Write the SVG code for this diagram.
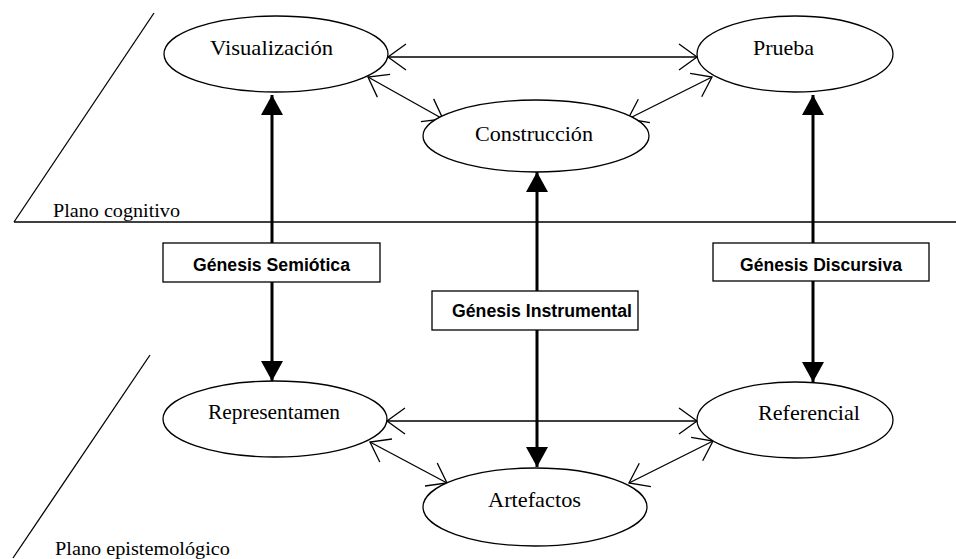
<svg xmlns="http://www.w3.org/2000/svg" width="956" height="559" viewBox="0 0 956 559">
<style>
.bg{fill:#fff}
.node ellipse{fill:#fff;stroke:#000;stroke-width:1.3}
.node text{font-family:"Liberation Serif","Times New Roman",serif;font-size:22px;fill:#000}
.box rect{fill:#fff;stroke:#000;stroke-width:1.3}
.box text{font-family:"Liberation Sans",Arial,sans-serif;font-size:17.5px;font-weight:bold;fill:#000}
.thin{stroke:#000;stroke-width:1.3;fill:none}
.thick{stroke:#000;stroke-width:3;fill:none}
.plane{stroke:#000;stroke-width:1.3;fill:none}
.lbl{font-family:"Liberation Serif","Times New Roman",serif;font-size:18px;fill:#000}
</style>
<defs>
<marker id="open" markerUnits="userSpaceOnUse" markerWidth="22" markerHeight="30" viewBox="-20 -15 22 30" refX="0" refY="0" orient="auto-start-reverse">
<path d="M-18,-13 L0,0 L-18,13" fill="none" stroke="#000" stroke-width="1.3"/>
</marker>
<marker id="solid" markerUnits="userSpaceOnUse" markerWidth="24" markerHeight="24" viewBox="-22 -12 24 24" refX="0" refY="0" orient="auto-start-reverse">
<path d="M-20,-11 L0,0 L-20,11 Z" fill="#000"/>
</marker>
</defs>
<rect class="bg" x="0" y="0" width="956" height="559"/>

<g id="planes">
<line class="plane" x1="14" y1="222" x2="956" y2="222"/>
<line class="plane" x1="14" y1="222" x2="154" y2="13"/>
<line class="plane" x1="150" y1="355" x2="13" y2="558"/>
<text class="lbl" x="53" y="217" textLength="127" lengthAdjust="spacingAndGlyphs">Plano cognitivo</text>
<text class="lbl" x="55" y="555" textLength="175" lengthAdjust="spacingAndGlyphs">Plano epistemológico</text>
</g>

<g id="connectors">
<line class="thin" x1="388" y1="57" x2="697" y2="57" marker-start="url(#open)" marker-end="url(#open)"/>
<line class="thin" x1="368" y1="77" x2="443" y2="119" marker-start="url(#open)" marker-end="url(#open)"/>
<line class="thin" x1="628" y1="119" x2="712" y2="77" marker-start="url(#open)" marker-end="url(#open)"/>
<line class="thin" x1="387" y1="421" x2="697" y2="421" marker-start="url(#open)" marker-end="url(#open)"/>
<line class="thin" x1="370" y1="442" x2="447" y2="483" marker-start="url(#open)" marker-end="url(#open)"/>
<line class="thin" x1="629" y1="483" x2="713" y2="441" marker-start="url(#open)" marker-end="url(#open)"/>
<line class="thick" x1="272" y1="95" x2="272" y2="381" marker-start="url(#solid)" marker-end="url(#solid)"/>
<line class="thick" x1="537" y1="172" x2="537" y2="467" marker-start="url(#solid)" marker-end="url(#solid)"/>
<line class="thick" x1="813" y1="95" x2="813" y2="382" marker-start="url(#solid)" marker-end="url(#solid)"/>
</g>

<g id="visualizacion" class="node">
<ellipse cx="276" cy="54" rx="112" ry="38"/>
<text x="210" y="55" textLength="123" lengthAdjust="spacingAndGlyphs">Visualización</text>
</g>
<g id="prueba" class="node">
<ellipse cx="795" cy="54" rx="98" ry="38"/>
<text x="753" y="55">Prueba</text>
</g>
<g id="construccion" class="node">
<ellipse cx="536" cy="136" rx="113" ry="36"/>
<text x="475" y="141" textLength="118" lengthAdjust="spacingAndGlyphs">Construcción</text>
</g>
<g id="representamen" class="node">
<ellipse cx="275" cy="419" rx="112" ry="38"/>
<text x="208" y="419" textLength="132" lengthAdjust="spacingAndGlyphs">Representamen</text>
</g>
<g id="referencial" class="node">
<ellipse cx="795" cy="420" rx="98" ry="38"/>
<text x="758" y="420" textLength="102" lengthAdjust="spacingAndGlyphs">Referencial</text>
</g>
<g id="artefactos" class="node">
<ellipse cx="535" cy="507" rx="112" ry="39"/>
<text x="488" y="507" textLength="93" lengthAdjust="spacingAndGlyphs">Artefactos</text>
</g>

<g id="genesis-semiotica" class="box">
<rect x="163" y="243" width="217" height="39"/>
<text x="193" y="271" textLength="157" lengthAdjust="spacingAndGlyphs">Génesis Semiótica</text>
</g>
<g id="genesis-instrumental" class="box">
<rect x="432" y="291" width="206" height="39"/>
<text x="452" y="317" textLength="180" lengthAdjust="spacingAndGlyphs">Génesis Instrumental</text>
</g>
<g id="genesis-discursiva" class="box">
<rect x="713" y="243" width="216" height="38"/>
<text x="740" y="271" textLength="162" lengthAdjust="spacingAndGlyphs">Génesis Discursiva</text>
</g>
</svg>
